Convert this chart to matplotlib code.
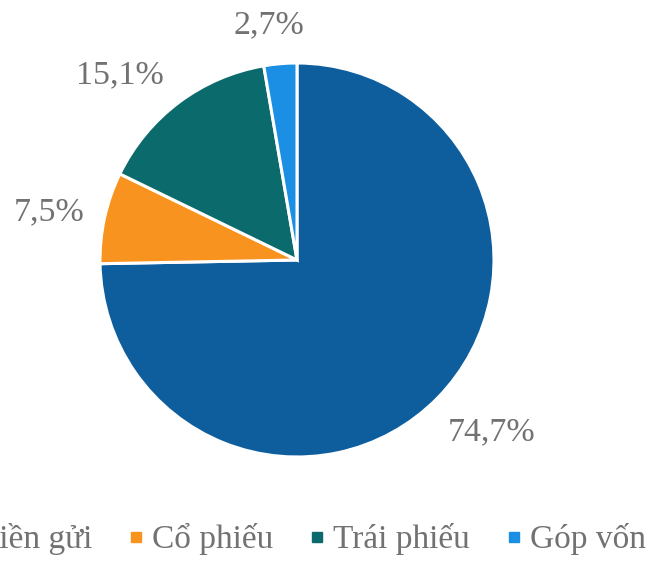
import numpy as np
import matplotlib.pyplot as plt
from matplotlib.lines import Line2D

plt.rcParams['font.family'] = ['Liberation Serif', 'DejaVu Serif']

# data
categories = ["Tiền gửi", "Cổ phiếu", "Trái phiếu", "Góp vốn"]
shares = [74.7, 7.5, 15.1, 2.7]
labels = ["74,7%", "7,5%", "15,1%", "2,7%"]
colors = ["#0e5e9e", "#f7931e", "#0b6a6c", "#1b8fe3"]

fig = plt.figure(figsize=(6.5, 5.63), dpi=100)
# square axes box: pie center ~ (297, 260) px, radius ~197 px
ax = fig.add_axes([100 / 650, 106 / 563, 394 / 650, 394 / 563])

wedges, _ = ax.pie(shares, colors=colors, startangle=90, counterclock=False,
                   wedgeprops=dict(edgecolor="white", linewidth=2.2))
ax.set_xlim(-1, 1)
ax.set_ylim(-1, 1)
ax.axis("off")

# percentage labels outside the wedges (distance, angle nudge in degrees)
dist = [1.32, 1.28, 1.30, 1.20]
nudge = [3, 1.5, 7, 2]
for w, lab, d, n in zip(wedges, labels, dist, nudge):
    ang = np.deg2rad((w.theta1 + w.theta2) / 2 + n)
    ax.text(d * np.cos(ang), d * np.sin(ang), lab, ha="center", va="center",
            fontsize=24.5, color="#727272", clip_on=False)

# legend runs off the left edge like in the original (cropped) figure
handles = [Line2D([0], [0], marker="s", linestyle="none", markersize=7.5,
                  markerfacecolor=c, markeredgecolor=c) for c in colors]
fig.legend(handles, categories, loc="center right",
           bbox_to_anchor=(646 / 650, 0.042),
           ncol=4, frameon=False, fontsize=24, handlelength=0.35,
           handletextpad=0.3, columnspacing=1.15, labelcolor="#727272",
           borderpad=0, borderaxespad=0)

fig.savefig("out.png", dpi=100)
